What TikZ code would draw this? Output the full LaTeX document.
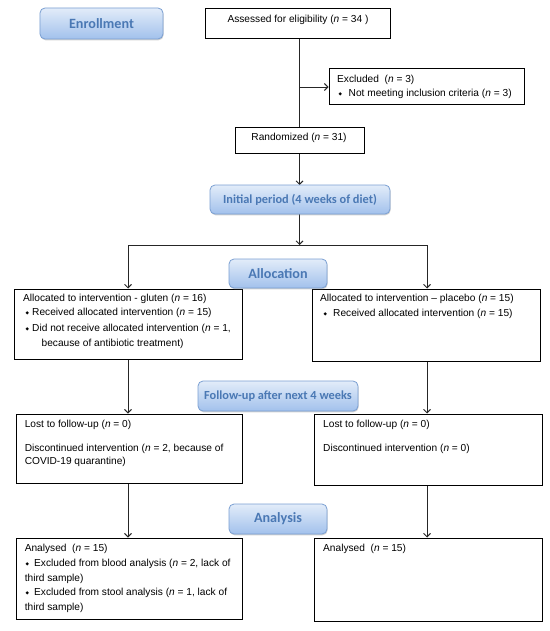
\documentclass[tikz,border=0pt]{standalone}
\usepackage{fontspec}
\setmainfont{Liberation Sans}
\newfontfamily\calfont{Carlito}
\newfontfamily\symfont{DejaVu Sans}
\usetikzlibrary{arrows.meta,shadows}
\definecolor{bluetxt}{HTML}{4A78B4}
\definecolor{bluetop}{HTML}{E2ECF9}
\definecolor{bluebot}{HTML}{A2C1EC}
\definecolor{blueedge}{HTML}{7A9FD2}
\newcommand{\dbul}{{\symfont\fontsize{4.5}{5}\selectfont\raisebox{0.8pt}{◆}}}
\newcommand{\bl}[1]{\makebox[#1][l]{\dbul}}
\tikzset{
  box/.style={draw=black, line width=1bp, inner sep=0, fill=white},
  stage/.style={draw=blueedge, line width=0.8bp, rounded corners=5bp,
    top color=bluetop, bottom color=bluebot, inner sep=0,
    font=\calfont\bfseries\fontsize{14.2}{14}\selectfont, text=bluetxt,
    drop shadow={shadow xshift=0.6pt, shadow yshift=-1.3pt, opacity=0.35}},
  stagesm/.style={stage, font=\calfont\bfseries\fontsize{12.4}{12}\selectfont},
  txt/.style={anchor=base west, inner sep=0, font=\fontsize{10.2}{12}\selectfont},
  ctxt/.style={txt, anchor=base},
  conn/.style={line width=0.9bp, draw=black!85},
  arr/.style={conn, -{Straight Barb[length=3.5bp,width=7bp]}},
}
\begin{document}
\begin{tikzpicture}[x=1bp,y=-1bp]
\fill[white] (0,0) rectangle (550,631);
\useasboundingbox (0,0) rectangle (550,631);

% boxes
\node[box, minimum width=185bp, minimum height=30bp] (assess) at (297.5,23.5) {};
\node[box, minimum width=195bp, minimum height=36bp] (excl) at (426.5,87) {};
\node[box, minimum width=129bp, minimum height=26bp] (rand) at (299.5,141) {};
\node[box, minimum width=227bp, minimum height=70bp] (galloc) at (128.5,324) {};
\node[box, minimum width=228bp, minimum height=72bp] (palloc) at (426,325) {};
\node[box, minimum width=225bp, minimum height=69bp] (glost) at (129.5,448.5) {};
\node[box, minimum width=228bp, minimum height=71bp] (plost) at (428,449.5) {};
\node[box, minimum width=225bp, minimum height=81bp] (gana) at (129.5,578.5) {};
\node[box, minimum width=228bp, minimum height=83bp] (pana) at (428,579.5) {};

% connectors
\coordinate (hub) at (299.5,245);
\coordinate (hl) at (128,245);
\coordinate (hr) at (427,245);
\draw[conn] (rand.north |- assess.south) -- (rand.north);
\draw[arr] (rand.north |- excl.west) -- (excl.west);
\draw[arr] (rand.south) -- (rand.south |- 0,185);
\draw[arr] (rand.south |- 0,214) -- (hub);
\draw[conn] (hl) -- (hr);
\draw[arr] (hl) -- (hl |- galloc.north);
\draw[arr] (hr) -- (hr |- palloc.north);
\draw[arr] (hl |- galloc.south) -- (hl |- glost.north);
\draw[arr] (hr |- palloc.south) -- (hr |- plost.north);
\draw[arr] (hl |- glost.south) -- (hl |- gana.north);
\draw[arr] (hr |- plost.south) -- (hr |- pana.north);

% stage labels
\node[stage, minimum width=123bp, minimum height=31bp] (enroll) at (101.5,23.5) {Enrollment};
\node[stagesm, minimum width=180bp, minimum height=29bp] (init) at (300,199.5) {Initial period (4 weeks of diet)};
\node[stage, minimum width=98bp, minimum height=29bp] (alloc) at (278,273.5) {Allocation};
\node[stagesm, minimum width=160bp, minimum height=30bp] (follow) at (278,396) {Follow-up after next 4 weeks};
\node[stage, minimum width=98bp, minimum height=30bp] (analysis) at (278,519) {Analysis};

% texts
\node[ctxt] (assesst) at (298,22.5) {Assessed for eligibility (\textit{n} = 34 )};
\node[ctxt] (randt) at (299,140.5) {Randomized (\textit{n} = 31)};
\node[txt] (ex1) at (337,82.5) {Excluded\ \ (\textit{n} = 3)};
\node[txt] (ex2) at (338.5,96.5) {\bl{10bp}Not meeting inclusion criteria (\textit{n} = 3)};

\node[txt] (ga1) at (23,301.5) {Allocated to intervention - gluten (\textit{n} = 16)};
\node[txt] (ga2) at (25.5,315.5) {\bl{6.5bp}Received allocated intervention (\textit{n} = 15)};
\node[txt] (ga3) at (25.5,331.5) {\bl{6.5bp}Did not receive allocated intervention (\textit{n} = 1,};
\node[txt] (ga4) at (41.5,346.5) {because of antibiotic treatment)};

\node[txt] (pa1) at (320,301.5) {Allocated to intervention -- placebo (\textit{n} = 15)};
\node[txt] (pa2) at (323.5,316.5) {\bl{9.5bp}Received allocated intervention (\textit{n} = 15)};

\node[txt] (gl1) at (24.6,427.5) {Lost to follow-up (\textit{n} = 0)};
\node[txt] (gl2) at (24.6,451.5) {Discontinued intervention (\textit{n} = 2, because of};
\node[txt] (gl3) at (24.6,464.5) {COVID-19 quarantine)};

\node[txt] (pl1) at (323,427.5) {Lost to follow-up (\textit{n} = 0)};
\node[txt] (pl2) at (323,451.5) {Discontinued intervention (\textit{n} = 0)};

\node[txt] (gn1) at (24.6,551.5) {Analysed\ \ (\textit{n} = 15)};
\node[txt] (gn2) at (25.5,566.5) {\bl{8.5bp}Excluded from blood analysis (\textit{n} = 2, lack of};
\node[txt] (gn3) at (24.6,581.5) {third sample)};
\node[txt] (gn4) at (25.5,595.5) {\bl{8.5bp}Excluded from stool analysis (\textit{n} = 1, lack of};
\node[txt] (gn5) at (24.6,610.5) {third sample)};

\node[txt] (pn1) at (323,551.5) {Analysed\ \ (\textit{n} = 15)};
\end{tikzpicture}
\end{document}
